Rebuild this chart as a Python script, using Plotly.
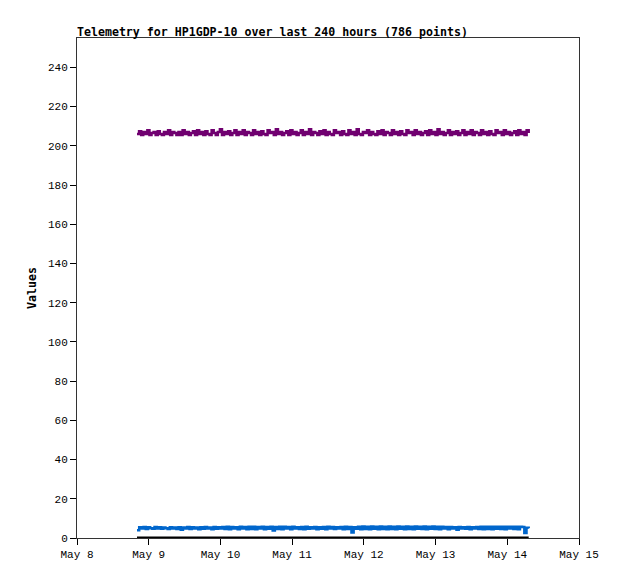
import pandas as pd
import plotly.graph_objects as go

title_text = "Telemetry for HP1GDP-10 over last 240 hours (786 points)"
y_label = "Values"
t_start = "2024-05-08 20:05"
t_end = "2024-05-14 07:10"

purple_vals = [206,207.5,205.5,207,206,208,205.5,206.5,207,205.5,207.5,206,205.5,207,206,208,205.5,207,206.5,205.5,
               207,205.5,208,206,207,205.5,206.5,207.5,205.5,208,206,207,205.5,207.5,206,205.5,208,206.5,205.5,207,
               208.5,205.5,207,206,207.5,205.5,206.5,208,205.5,207,206,208,205.5,207,206.5,205.5,208,206,207,205.5,
               207.5,206,205.5,208,206.5,207,205.5,208.5,206,207,205.5,206.5,207.5,205.5,208,206,207,205.5,206.5,208,
               205.5,207,206,208.5,205.5,207,206.5,205.5,207.5,206,208,205.5,207,206,205.5,208,206.5,207,205.5,207.5,
               206,205.5,208,206,207,205.5,208.5,206,205.5,207,206.5,208,205.5,207,206,205.5,207.5,206,208,205.5,
               207,206.5,205.5,208,206,207,205.5,207.5,206,205.5,208,206.5,207,205.5,208,206,207,205.5,206.5,207.5,
               205.5,208,206,207,205.5,208.5,206,207,205.5,206.5,208,205.5,207,206,207.5,205.5,206.5,208,205.5,207,
               206,208,205.5,207,206.5,205.5,208,206,207,205.5,207.5,206,205.5,208,206.5,207,205.5,208,206,207,
               205.5,206.5,207.5,205.5,208,206,207,205.5,208,206.5]

blue_vals = [4,5.5,4.8,5.6,4.6,5.5,5,4.7,5.6,4.8,5.5,4.7,5.4,5,4.6,5.5,4.9,5.3,4.6,5.5,
             4.2,5.4,4.8,5.6,4.6,5.5,4.8,5.4,4.5,5.5,4.7,5.6,4.8,5.3,4.4,5.6,4.7,5.5,4.8,5.6,
             4.6,5.7,4.5,5.6,4.8,5.5,4.5,5.7,4.8,5.6,4.5,5.8,4.6,5.7,4.4,5.6,4.8,5.7,4.5,5.6,
             4.7,5.8,3.8,5.6,4.6,5.7,4.5,5.8,4.8,5.6,4.5,5.7,4.8,5.5,4.6,5.6,4.4,5.7,4.7,5.5,
             4.8,5.6,4.5,5.5,4.7,5.6,4.5,5.8,4.8,5.6,4.6,5.5,4.9,5.6,4.5,5.8,4.6,5.6,2.8,5.5,
             4.7,5.8,4.5,5.9,4.6,5.8,4.5,5.9,4.7,5.8,4.5,5.9,4.6,5.8,4.4,5.9,4.6,5.8,4.5,5.9,
             4.7,5.8,4.5,5.9,4.6,5.8,4.5,5.9,4.7,5.8,4.6,5.9,4.5,5.8,4.7,5.9,4.6,5.8,4.5,5.8,
             4.8,5.6,4.5,5.6,4.8,5.5,4.2,5.6,4.8,5.5,4.7,5.6,4.4,5.5,4.8,5.6,4.6,5.7,4.5,5.8,
             4.6,5.7,4.5,5.8,4.7,5.7,4.6,5.8,4.5,5.7,4.8,5.8,4.6,5.7,4.5,5.8,5.6,2.5,5.2,5]

black_vals = [0] * 200

x_range = ["2024-05-08", "2024-05-15"]
y_range = [0, 255]


def times(n):
    return pd.date_range(t_start, t_end, periods=n)


fig = go.Figure()
fig.add_trace(go.Scatter(x=times(len(black_vals)), y=black_vals, mode="lines",
                         line=dict(color="#000000", width=3), showlegend=False))
fig.add_trace(go.Scatter(x=times(len(blue_vals)), y=blue_vals, mode="lines", line_shape="hv",
                         line=dict(color="#0066cc", width=2.5), showlegend=False))
fig.add_trace(go.Scatter(x=times(len(purple_vals)), y=purple_vals, mode="lines", line_shape="hv",
                         line=dict(color="#700070", width=2.5), showlegend=False))

tick_font = dict(family="Liberation Mono, Courier New, monospace", size=11, color="#000")

fig.update_layout(
    width=618, height=579,
    margin=dict(l=69, r=47, t=30, b=49, autoexpand=False),
    paper_bgcolor="white", plot_bgcolor="white",
    title=dict(text=title_text, x=0, xref="paper", xanchor="left",
               y=1, yref="paper", yanchor="bottom", pad=dict(b=2, l=0, t=0, r=0), automargin=False,
               font=dict(family="DejaVu Sans Mono, monospace", size=11.6, color="#000", weight="bold")),
    xaxis=dict(range=x_range, type="date", dtick=86400000, tickformat="%b %-d", automargin=False,
               showgrid=False, zeroline=False, showline=True, mirror=True,
               linecolor="#333", linewidth=1, ticks="outside", ticklen=6, tickcolor="#000",
               tickfont=tick_font),
    yaxis=dict(range=y_range, tick0=0, dtick=20, showgrid=False, zeroline=False, automargin=False,
               showline=True, mirror=True, linecolor="#333", linewidth=1,
               ticks="outside", ticklen=6, tickcolor="#000", tickfont=tick_font,
               title=dict(text=y_label, standoff=8,
                          font=dict(family="DejaVu Sans Mono, monospace", size=11.6, color="#000", weight="bold"))),
)

fig.write_html("out.html")
